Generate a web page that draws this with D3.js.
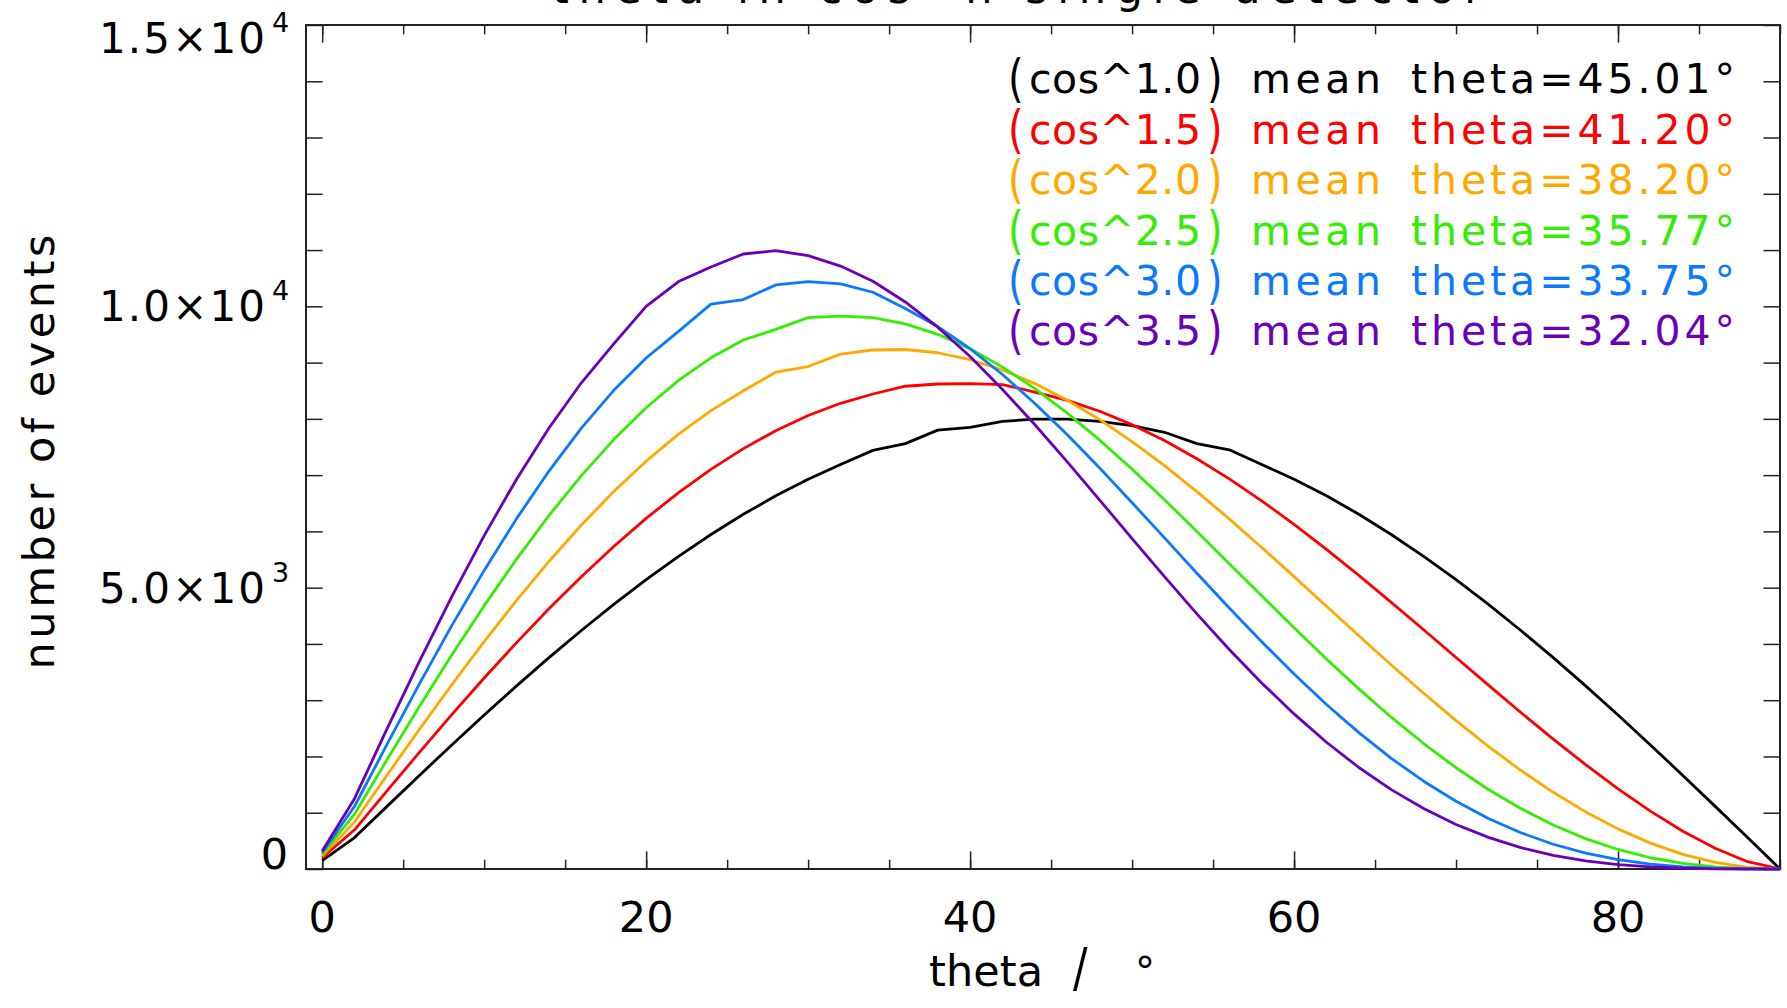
<!DOCTYPE html>
<html>
<head>
<meta charset="utf-8">
<script src="https://cdn.jsdelivr.net/npm/d3@7"></script>
<style>
  html, body { margin: 0; padding: 0; background: #fff; overflow: hidden; }
  text { font-family: "DejaVu Sans", "Liberation Sans", sans-serif; }
</style>
</head>
<body>
<svg id="chart" width="1787" height="1008"></svg>
<script>
// Zenith-angle distributions for cos^n generators, histogrammed in 2-degree steps
const theta = [0, 2, 4, 6, 8, 10, 12, 14, 16, 18, 20, 22, 24, 26, 28, 30, 32, 34, 36, 38, 40, 42, 44,
               46, 48, 50, 52, 54, 56, 58, 60, 62, 64, 66, 68, 70, 72, 74, 76, 78, 80, 82, 84, 86, 88, 90];

const countsCos10 = [150, 558, 1113, 1663, 2205, 2736, 3254, 3756, 4239, 4702, 5142, 5557, 5945, 6304, 6632, 6928,
  7190, 7440, 7560, 7800, 7850, 7956, 7995, 7995, 7956, 7878, 7762, 7560, 7450, 7190, 6928, 6632, 6304, 5945,
  5557, 5142, 4702, 4239, 3756, 3254, 2736, 2205, 1663, 1113, 558, 0];
const countsCos15 = [200, 697, 1390, 2073, 2743, 3394, 4023, 4624, 5195, 5732, 6231, 6689, 7103, 7471, 7790, 8059,
  8277, 8442, 8580, 8620, 8625, 8610, 8477, 8330, 8135, 7897, 7614, 7292, 6933, 6544, 6124, 5680, 5217, 4739,
  4252, 3759, 3267, 2782, 2309, 1855, 1425, 1028, 672, 368, 130, 0];
const countsCos20 = [230, 837, 1666, 2481, 3275, 4042, 4774, 5466, 6113, 6708, 7248, 7729, 8147, 8499, 8830, 8930,
  9150, 9224, 9233, 9175, 9053, 8869, 8627, 8331, 7986, 7596, 7169, 6708, 6222, 5715, 5196, 4670, 4145, 3627,
  3123, 2638, 2180, 1753, 1363, 1015, 713, 460, 261, 117, 29, 0];
const countsCos25 = [260, 976, 1941, 2887, 3803, 4680, 5508, 6282, 6992, 7632, 8198, 8683, 9085, 9401, 9590, 9800,
  9827, 9798, 9689, 9503, 9247, 8920, 8537, 8101, 7621, 7107, 6563, 6000, 5427, 4855, 4287, 3733, 3201, 2698,
  2230, 1800, 1413, 1074, 782, 540, 347, 200, 99, 36, 6, 0];
const countsCos30 = [290, 1115, 2216, 3290, 4325, 5307, 6227, 7072, 7835, 8507, 9082, 9555, 10040, 10120, 10380, 10440,
  10400, 10250, 9960, 9640, 9246, 8788, 8274, 7716, 7125, 6510, 5884, 5257, 4639, 4038, 3464, 2924, 2423, 1967,
  1560, 1203, 898, 644, 440, 281, 165, 86, 36, 11, 1, 0];
const countsCos35 = [320, 1254, 2490, 3691, 4841, 5925, 6928, 7837, 8641, 9333, 10000, 10440, 10700, 10930, 10990, 10900,
  10715, 10445, 10078, 9629, 9108, 8523, 7896, 7236, 6557, 5873, 5196, 4534, 3901, 3307, 2756, 2253, 1804, 1411,
  1074, 792, 562, 380, 243, 144, 77, 36, 13, 3, 0, 0];

const exponents = ["1.0", "1.5", "2.0", "2.5", "3.0", "3.5"];
const meanTheta = ["45.01", "41.20", "38.20", "35.77", "33.75", "32.04"];
const seriesColors = ["#000000", "#ff0000", "#ffa800", "#33ee00", "#0a78ff", "#6a00b8"];
const seriesCounts = [countsCos10, countsCos15, countsCos20, countsCos25, countsCos30, countsCos35];

const xMajorTicks = [0, 20, 40, 60, 80];
const xMinorTicks = [0, 5, 10, 15, 20, 25, 30, 35, 40, 45, 50, 55, 60, 65, 70, 75, 80, 85, 90];
const yTicks = [0, 1000, 2000, 3000, 4000, 5000, 6000, 7000, 8000, 9000, 10000, 11000, 12000, 13000, 14000, 15000];
const yLabelValues = [0, 5000, 10000, 15000];
const yLabelMantissa = ["0", "5.0×10", "1.0×10", "1.5×10"];
const yLabelExponent = ["", "3", "4", "4"];

const titleText = "theta in cos^n single detector";
const xTitle = "theta";
const yTitle = "number of events";

// ---------------------------------------------------------------
const svg = d3.select("#chart");
const frame = { left: 306, right: 1780, top: 25, bottom: 869 };
const axisColor = "#222";

svg.append("rect").attr("x", 0).attr("y", 0).attr("width", 1787).attr("height", 1008).attr("fill", "#fff");

const x = d3.scaleLinear().domain([-1, 90]).range([frame.left, frame.right]);
const y = d3.scaleLinear().domain([0, 15000]).range([frame.bottom, frame.top]);

// Title sits mostly above the canvas
svg.append("text")
  .attr("x", 1017).attr("y", 3)
  .attr("text-anchor", "middle")
  .attr("font-size", 43)
  .attr("textLength", 930)
  .attr("lengthAdjust", "spacing")
  .attr("fill", "#000")
  .text(titleText);

// Inward ticks on all four sides
function styleAxis(g) {
  g.select(".domain").remove();
  g.selectAll(".tick line").attr("stroke", axisColor).attr("stroke-width", 1.5);
  g.selectAll(".tick text").remove();
}
svg.append("g").attr("transform", `translate(0,${frame.bottom})`)
  .call(d3.axisBottom(x).tickValues(xMinorTicks).tickSize(-9.3).tickFormat("")).call(styleAxis);
svg.append("g").attr("transform", `translate(0,${frame.bottom})`)
  .call(d3.axisBottom(x).tickValues(xMajorTicks).tickSize(-17.7).tickFormat("")).call(styleAxis);
svg.append("g").attr("transform", `translate(0,${frame.top})`)
  .call(d3.axisTop(x).tickValues(xMinorTicks).tickSize(-9.3).tickFormat("")).call(styleAxis);
svg.append("g").attr("transform", `translate(0,${frame.top})`)
  .call(d3.axisTop(x).tickValues(xMajorTicks).tickSize(-17.7).tickFormat("")).call(styleAxis);
svg.append("g").attr("transform", `translate(${frame.left},0)`)
  .call(d3.axisLeft(y).tickValues(yTicks).tickSize(-16.5).tickFormat("")).call(styleAxis);
svg.append("g").attr("transform", `translate(${frame.right},0)`)
  .call(d3.axisRight(y).tickValues(yTicks).tickSize(-16.5).tickFormat("")).call(styleAxis);

svg.append("rect")
  .attr("x", frame.left).attr("y", frame.top)
  .attr("width", frame.right - frame.left).attr("height", frame.bottom - frame.top)
  .attr("fill", "none").attr("stroke", axisColor).attr("stroke-width", 2);

// x tick labels
svg.append("g").selectAll("text").data(xMajorTicks).join("text")
  .attr("x", d => x(d)).attr("y", 932)
  .attr("text-anchor", "middle").attr("font-size", 43).attr("fill", "#000")
  .text(d => d);

// y tick labels: mantissa with raised exponent, end labels kept inside the frame height
const yLabels = svg.append("g");
yLabelValues.forEach((v, i) => {
  const base = Math.min(Math.max(y(v) + 15, frame.top + 28), frame.bottom);
  if (yLabelExponent[i] === "") {
    yLabels.append("text").attr("x", 288).attr("y", base)
      .attr("text-anchor", "end").attr("font-size", 43).text(yLabelMantissa[i]);
  } else {
    yLabels.append("text").attr("x", 99).attr("y", base)
      .attr("font-size", 42).attr("textLength", 166).attr("lengthAdjust", "spacing")
      .text(yLabelMantissa[i]);
    yLabels.append("text").attr("x", 272).attr("y", base - 21)
      .attr("font-size", 27).text(yLabelExponent[i]);
  }
});

// axis titles
svg.append("text").attr("x", 929).attr("y", 986)
  .attr("font-size", 43).attr("textLength", 114).attr("lengthAdjust", "spacing").text(xTitle);
svg.append("text").attr("transform", "translate(1073,986) scale(1,1.25)")
  .attr("font-size", 43).text("/");
svg.append("text").attr("x", 1135).attr("y", 986)
  .attr("font-size", 40).text("°");

svg.append("text")
  .attr("transform", "translate(54,452) rotate(-90)")
  .attr("text-anchor", "middle").attr("font-size", 43)
  .attr("textLength", 435).attr("lengthAdjust", "spacing")
  .text(yTitle);

// distribution curves
const line = d3.line().x((d, i) => x(theta[i])).y(d => y(d));
svg.append("g").selectAll("path").data(seriesCounts).join("path")
  .attr("d", d => line(d))
  .attr("fill", "none")
  .attr("stroke", (d, i) => seriesColors[i])
  .attr("stroke-width", 2.8)
  .attr("stroke-linejoin", "round");

// legend
const legend = svg.append("g");
exponents.forEach((e, i) => {
  const b = 93.3 + 50.4 * i;
  const col = seriesColors[i];
  legend.append("text").attr("transform", `translate(1008,${b + 3}) scale(1,1.3)`)
    .attr("font-size", 40).attr("fill", col).text("(");
  legend.append("text").attr("x", 1029).attr("y", b)
    .attr("font-size", 41).attr("fill", col)
    .attr("textLength", 172).attr("lengthAdjust", "spacing").text("cos^" + e);
  legend.append("text").attr("transform", `translate(1207,${b + 3}) scale(1,1.3)`)
    .attr("font-size", 40).attr("fill", col).text(")");
  legend.append("text").attr("x", 1251).attr("y", b)
    .attr("font-size", 41).attr("fill", col)
    .attr("textLength", 130).attr("lengthAdjust", "spacing").text("mean");
  legend.append("text").attr("x", 1411).attr("y", b)
    .attr("font-size", 41).attr("fill", col)
    .attr("textLength", 324).attr("lengthAdjust", "spacing").text("theta=" + meanTheta[i] + "°");
});
</script>
</body>
</html>
